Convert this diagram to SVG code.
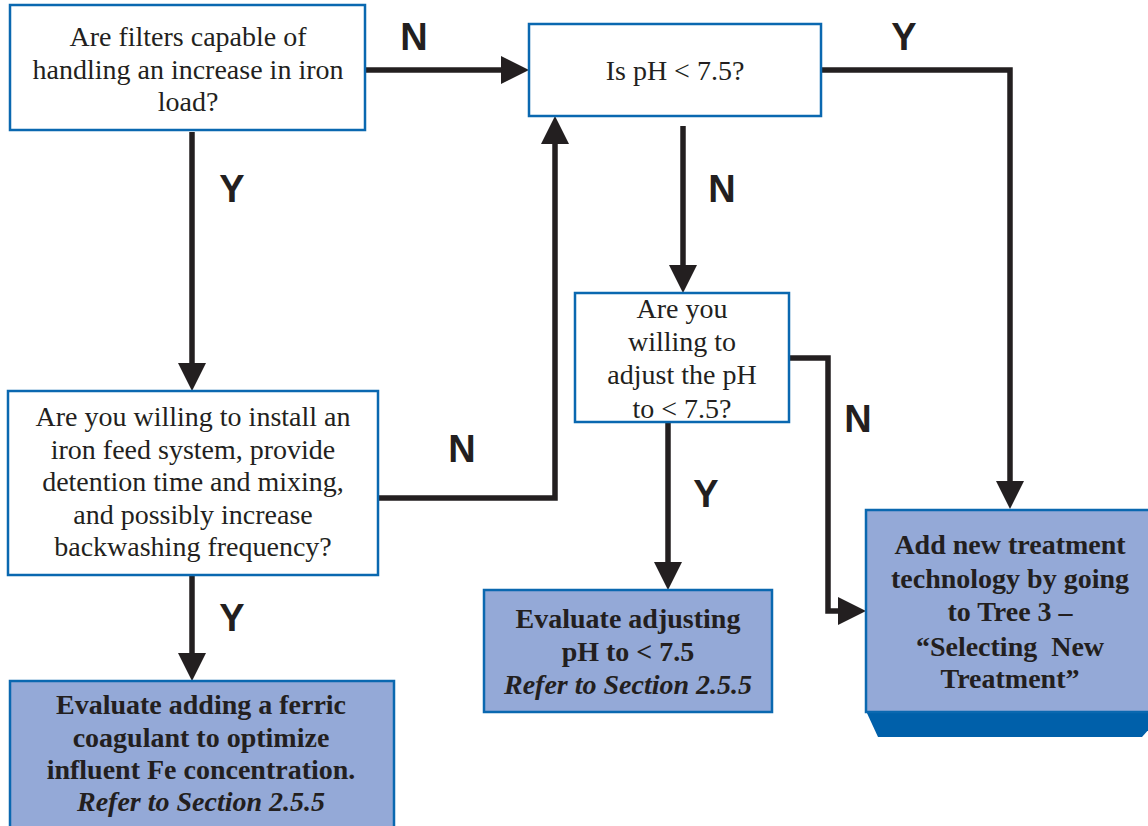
<svg xmlns="http://www.w3.org/2000/svg" width="1148" height="826" viewBox="0 0 1148 826">
<defs>
<marker id="ah" markerUnits="userSpaceOnUse" markerWidth="28" markerHeight="28" refX="0" refY="14" orient="auto" viewBox="0 0 28 28">
<path d="M0,0 L28,14 L0,28 z" fill="#231f20"/>
</marker>
</defs>
<style>
.q{fill:#ffffff;stroke:#0a68b0;stroke-width:2.5}
.a{fill:#94a9d7;stroke:#0a68b0;stroke-width:2.5}
.t{font-family:"Liberation Serif","Times New Roman",serif;font-size:28px;fill:#231f20;text-anchor:middle}
.b{font-family:"Liberation Serif","Times New Roman",serif;font-size:28px;font-weight:bold;fill:#231f20;text-anchor:middle}
.bi{font-style:italic}
.l{font-family:"Liberation Sans",Arial,sans-serif;font-size:38px;font-weight:bold;fill:#231f20;text-anchor:middle}
.c{fill:none;stroke:#231f20;stroke-width:5.5;stroke-linejoin:miter}
</style>
<rect width="1148" height="826" fill="#ffffff"/>
<g id="connectors">
<path class="c" d="M365,70 H501" marker-end="url(#ah)"/>
<path class="c" d="M192,132 V363" marker-end="url(#ah)"/>
<path class="c" d="M192,576 V653" marker-end="url(#ah)"/>
<path class="c" d="M378,498 H555 V144" marker-end="url(#ah)"/>
<path class="c" d="M683,126 V265" marker-end="url(#ah)"/>
<path class="c" d="M821,70 H1010 V481" marker-end="url(#ah)"/>
<path class="c" d="M789,358 H828 V611 H838" marker-end="url(#ah)"/>
<path class="c" d="M668,423 V562" marker-end="url(#ah)"/>
</g>
<g id="labels">
<text class="l" x="414" y="50">N</text>
<text class="l" x="904" y="50">Y</text>
<text class="l" x="232" y="202">Y</text>
<text class="l" x="722" y="202">N</text>
<text class="l" x="462" y="462">N</text>
<text class="l" x="858" y="432">N</text>
<text class="l" x="706" y="507">Y</text>
<text class="l" x="232" y="631">Y</text>
</g>
<g id="n1">
<rect class="q" x="10" y="5" width="355" height="125"/>
<text class="t" x="188" y="46">Are filters capable of</text>
<text class="t" x="188" y="79">handling an increase in iron</text>
<text class="t" x="188" y="111">load?</text>
</g>
<g id="n2">
<rect class="q" x="529" y="24" width="292" height="92"/>
<text class="t" x="675" y="80">Is pH &lt; 7.5?</text>
</g>
<g id="n3">
<rect class="q" x="575" y="293" width="214" height="129"/>
<text class="t" x="682" y="318">Are you</text>
<text class="t" x="682" y="351">willing to</text>
<text class="t" x="682" y="384">adjust the pH</text>
<text class="t" x="682" y="418">to &lt; 7.5?</text>
</g>
<g id="n4">
<rect class="q" x="8" y="391" width="370" height="184"/>
<text class="t" x="193" y="426">Are you willing to install an</text>
<text class="t" x="193" y="459">iron feed system, provide</text>
<text class="t" x="193" y="491">detention time and mixing,</text>
<text class="t" x="193" y="524">and possibly increase</text>
<text class="t" x="193" y="556">backwashing frequency?</text>
</g>
<g id="n5">
<rect class="a" x="10" y="681" width="384" height="150"/>
<text class="b" x="201" y="714">Evaluate adding a ferric</text>
<text class="b" x="201" y="747">coagulant to optimize</text>
<text class="b" x="201" y="779">influent Fe concentration.</text>
<text class="b bi" x="201" y="811">Refer to Section 2.5.5</text>
</g>
<g id="n6">
<rect class="a" x="484" y="590" width="288" height="122"/>
<text class="b" x="628" y="628">Evaluate adjusting</text>
<text class="b" x="628" y="661">pH to &lt; 7.5</text>
<text class="b bi" x="628" y="694">Refer to Section 2.5.5</text>
</g>
<g id="n7">
<path d="M866,711 H1150 V728 L1142,737 H878 Z" fill="#0060aa"/>
<rect class="a" x="866" y="510" width="290" height="202"/>
<text class="b" x="1010" y="554">Add new treatment</text>
<text class="b" x="1010" y="588">technology by going</text>
<text class="b" x="1010" y="621">to Tree 3 –</text>
<text class="b" x="1010" y="656" xml:space="preserve">“Selecting  New</text>
<text class="b" x="1010" y="688">Treatment”</text>
</g>
</svg>
